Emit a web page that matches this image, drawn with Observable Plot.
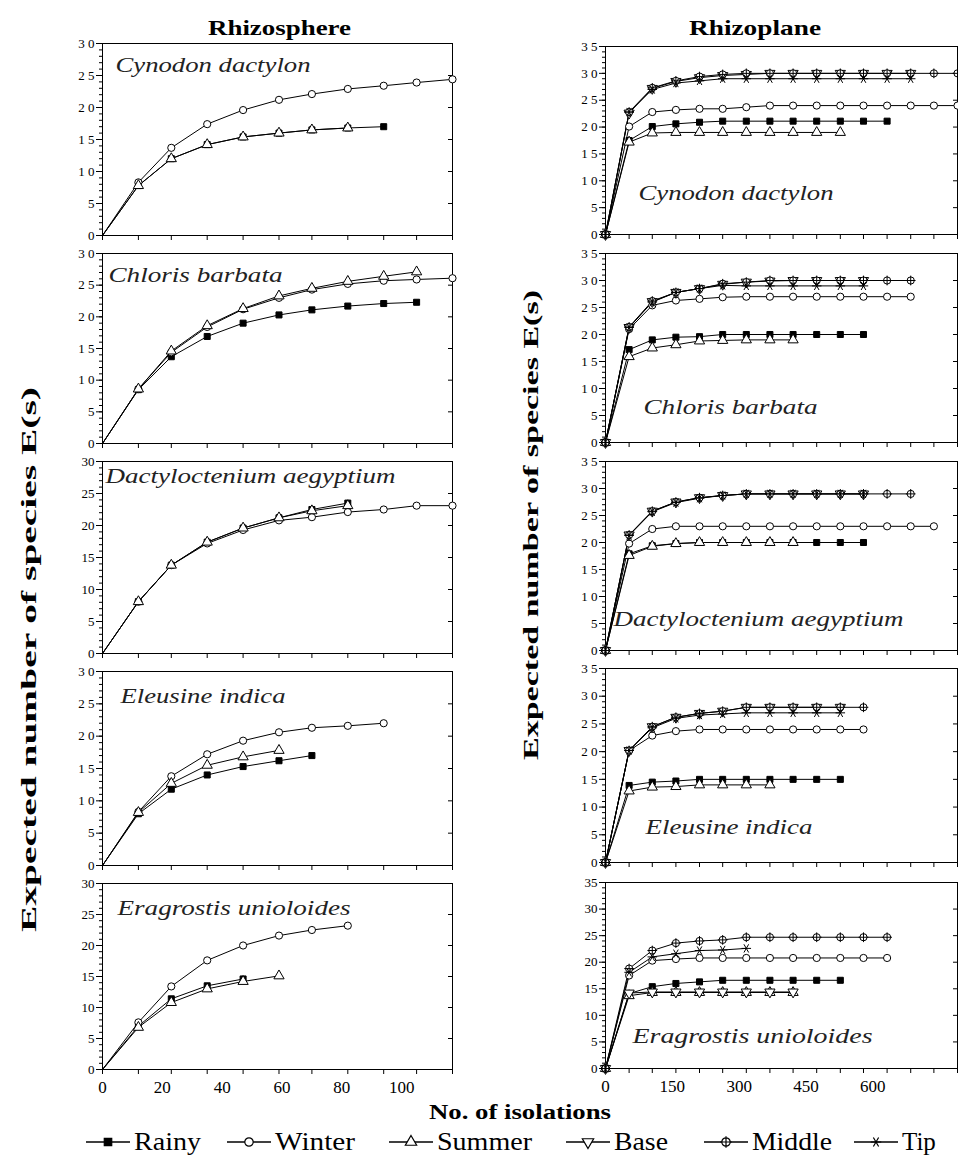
<!DOCTYPE html>
<html><head><meta charset="utf-8">
<script src="https://cdn.jsdelivr.net/npm/d3@7"></script>
<script src="https://cdn.jsdelivr.net/npm/@observablehq/plot@0.6"></script>
<style>
body{margin:0;background:#fff;}
#fig{position:relative;width:958px;height:1164px;overflow:hidden;background:#fff;font-family:"Liberation Serif",serif;}
#fig svg.panel{position:absolute;overflow:visible;}
#overlay{position:absolute;left:0;top:0;}
</style></head><body><div id="fig"></div>
<script>
// ---------------- DATA ----------------
const seasons = ["Rainy", "Winter", "Summer", "Base", "Middle", "Tip"];
const species = ["Cynodon dactylon", "Chloris barbata", "Dactyloctenium aegyptium", "Eleusine indica", "Eragrostis unioloides"];
const columnTitles = ["Rhizosphere", "Rhizoplane"];
const yTitle = "Expected number of species E(s)";
const xTitle = "No. of isolations";

// sample sizes (no. of isolations) at which E(s) was computed
const sphereN = [0, 12, 23, 35, 47, 59, 70, 82, 94, 105, 117];
const planeN = [0, 53, 105, 158, 211, 263, 316, 369, 421, 474, 527, 579, 632, 685, 737, 790];
const sphereXLabels = [0, 20, 40, 60, 80, 100];
const planeXLabels = [0, 150, 300, 450, 600];
const sphereYTicks = [0, 5, 10, 15, 20, 25, 30];
const planeYTicks = [0, 5, 10, 15, 20, 25, 30, 35];

// Rhizosphere
const cynodonSphereRainy  = [0, 7.8, 12.0, 14.2, 15.4, 16.0, 16.5, 16.8, 17.0];
const cynodonSphereWinter = [0, 8.3, 13.7, 17.4, 19.6, 21.2, 22.1, 22.9, 23.4, 23.9, 24.4];
const cynodonSphereSummer = [0, 7.8, 12.0, 14.2, 15.4, 16.0, 16.5, 16.8];

const chlorisSphereRainy  = [0, 8.5, 13.7, 16.9, 19.0, 20.3, 21.1, 21.7, 22.1, 22.3];
const chlorisSphereWinter = [0, 8.6, 14.4, 18.4, 21.2, 23.0, 24.3, 25.2, 25.7, 25.9, 26.1];
const chlorisSphereSummer = [0, 8.6, 14.6, 18.6, 21.3, 23.3, 24.5, 25.6, 26.4, 27.1];

const dactyloSphereRainy  = [0, 8.1, 13.8, 17.4, 19.6, 21.2, 22.5, 23.5];
const dactyloSphereWinter = [0, 8.1, 13.8, 17.2, 19.3, 20.8, 21.3, 22.1, 22.5, 23.1, 23.1];
const dactyloSphereSummer = [0, 8.1, 13.8, 17.4, 19.6, 21.2, 22.3, 23.1];

const eleusineSphereRainy  = [0, 8.0, 11.8, 14.0, 15.3, 16.2, 17.0];
const eleusineSphereWinter = [0, 8.3, 13.8, 17.2, 19.3, 20.6, 21.3, 21.6, 22.0];
const eleusineSphereSummer = [0, 8.2, 12.7, 15.5, 16.8, 17.8];

const eragrostisSphereRainy  = [0, 7.0, 11.4, 13.5, 14.6];
const eragrostisSphereWinter = [0, 7.6, 13.4, 17.6, 20.0, 21.6, 22.5, 23.2];
const eragrostisSphereSummer = [0, 6.8, 10.8, 13.0, 14.2, 15.1];

// Rhizoplane
const cynodonPlaneRainy  = [0, 17.5, 20.1, 20.6, 20.9, 21.1, 21.1, 21.1, 21.1, 21.1, 21.1, 21.1, 21.1];
const cynodonPlaneWinter = [0, 20.1, 22.8, 23.2, 23.4, 23.4, 23.7, 24.0, 24.0, 24.0, 24.0, 24.0, 24.0, 24.0, 24.0, 24.0];
const cynodonPlaneSummer = [0, 17.2, 18.9, 19.0, 19.0, 19.0, 19.0, 19.0, 19.0, 19.0, 19.0];
const cynodonPlaneBase   = [0, 22.6, 27.2, 28.5, 29.2, 29.6, 29.8, 30, 30, 30, 30, 30, 30, 30];
const cynodonPlaneMiddle = [0, 22.8, 27.3, 28.6, 29.4, 29.8, 30, 30, 30, 30, 30, 30, 30, 30, 30, 30];
const cynodonPlaneTip    = [0, 22.8, 27.0, 28.2, 28.6, 29, 29, 29, 29, 29, 29, 29, 29, 29];

const chlorisPlaneRainy  = [0, 17.2, 19.0, 19.5, 19.6, 20, 20, 20, 20, 20, 20, 20];
const chlorisPlaneWinter = [0, 21.0, 25.4, 26.3, 26.6, 26.9, 27, 27, 27, 27, 27, 27, 27, 27];
const chlorisPlaneSummer = [0, 15.9, 17.5, 18.1, 18.8, 18.9, 19, 19, 19];
const chlorisPlaneBase   = [0, 21.3, 26.1, 27.8, 28.5, 29.3, 29.7, 29.9, 30, 30, 30, 30];
const chlorisPlaneMiddle = [0, 21.4, 26.2, 27.8, 28.5, 29.4, 29.7, 30, 30, 30, 30, 30, 30, 30];
const chlorisPlaneTip    = [0, 21.3, 26.0, 27.8, 28.5, 29.1, 29, 29, 29, 29, 29, 29];

const dactyloPlaneRainy  = [0, 17.9, 19.4, 19.8, 20, 20, 20, 20, 20, 20, 20, 20];
const dactyloPlaneWinter = [0, 19.8, 22.5, 23, 23, 23, 23, 23, 23, 23, 23, 23, 23, 23, 23];
const dactyloPlaneSummer = [0, 17.6, 19.3, 19.8, 20, 20, 20, 20, 20];
const dactyloPlaneBase   = [0, 21.4, 25.8, 27.5, 28.3, 28.7, 29, 29, 29, 29, 29, 29];
const dactyloPlaneMiddle = [0, 21.4, 25.8, 27.5, 28.3, 28.7, 29, 29, 29, 29, 29, 29, 29, 29];
const dactyloPlaneTip    = [0, 21.3, 25.7, 27.4, 28.2, 28.7, 29, 29, 29, 29, 29, 29];

const eleusinePlaneRainy  = [0, 13.9, 14.5, 14.7, 15, 15, 15, 15, 15, 15, 15];
const eleusinePlaneWinter = [0, 20.2, 22.9, 23.7, 24, 24, 24, 24, 24, 24, 24, 24];
const eleusinePlaneSummer = [0, 12.9, 13.6, 13.7, 14, 14, 14, 14];
const eleusinePlaneBase   = [0, 20.2, 24.5, 26.2, 26.9, 27.3, 28, 28, 28, 28, 28];
const eleusinePlaneMiddle = [0, 20.2, 24.5, 26.2, 26.9, 27.3, 28, 28, 28, 28, 28, 28];
const eleusinePlaneTip    = [0, 20.2, 24.3, 26.0, 26.6, 26.8, 27, 27, 27, 27, 27];

const eragrostisPlaneRainy  = [0, 14.1, 15.4, 16.0, 16.3, 16.6, 16.6, 16.6, 16.6, 16.6, 16.6];
const eragrostisPlaneWinter = [0, 17.5, 20.3, 20.6, 20.8, 20.8, 20.8, 20.8, 20.8, 20.8, 20.8, 20.8, 20.8];
const eragrostisPlaneSummer = [0, 13.7, 14.3, 14.3, 14.3, 14.3, 14.3, 14.3, 14.3];
const eragrostisPlaneBase   = [0, 14.2, 14.4, 14.4, 14.4, 14.4, 14.4, 14.4, 14.4];
const eragrostisPlaneMiddle = [0, 18.8, 22.2, 23.6, 24.0, 24.2, 24.7, 24.7, 24.7, 24.7, 24.7, 24.7, 24.7];
const eragrostisPlaneTip    = [0, 18.1, 21.0, 21.6, 22.2, 22.3, 22.6];

// ---------------- BUILD ----------------
const sphereSeries = [
  {Rainy: cynodonSphereRainy, Winter: cynodonSphereWinter, Summer: cynodonSphereSummer},
  {Rainy: chlorisSphereRainy, Winter: chlorisSphereWinter, Summer: chlorisSphereSummer},
  {Rainy: dactyloSphereRainy, Winter: dactyloSphereWinter, Summer: dactyloSphereSummer},
  {Rainy: eleusineSphereRainy, Winter: eleusineSphereWinter, Summer: eleusineSphereSummer},
  {Rainy: eragrostisSphereRainy, Winter: eragrostisSphereWinter, Summer: eragrostisSphereSummer}
];
const planeSeries = [
  {Rainy: cynodonPlaneRainy, Winter: cynodonPlaneWinter, Summer: cynodonPlaneSummer, Base: cynodonPlaneBase, Middle: cynodonPlaneMiddle, Tip: cynodonPlaneTip},
  {Rainy: chlorisPlaneRainy, Winter: chlorisPlaneWinter, Summer: chlorisPlaneSummer, Base: chlorisPlaneBase, Middle: chlorisPlaneMiddle, Tip: chlorisPlaneTip},
  {Rainy: dactyloPlaneRainy, Winter: dactyloPlaneWinter, Summer: dactyloPlaneSummer, Base: dactyloPlaneBase, Middle: dactyloPlaneMiddle, Tip: dactyloPlaneTip},
  {Rainy: eleusinePlaneRainy, Winter: eleusinePlaneWinter, Summer: eleusinePlaneSummer, Base: eleusinePlaneBase, Middle: eleusinePlaneMiddle, Tip: eleusinePlaneTip},
  {Rainy: eragrostisPlaneRainy, Winter: eragrostisPlaneWinter, Summer: eragrostisPlaneSummer, Base: eragrostisPlaneBase, Middle: eragrostisPlaneMiddle, Tip: eragrostisPlaneTip}
];

// custom marker shapes
const sqrt3 = Math.sqrt(3);
const triangleDown = {draw(ctx, size) {
  const y = -Math.sqrt(size / (sqrt3 * 3));
  ctx.moveTo(0, -y * 2); ctx.lineTo(-sqrt3 * y, y); ctx.lineTo(sqrt3 * y, y); ctx.closePath();
}};
const circlePlus = {draw(ctx, size) {
  const r = Math.sqrt(size / Math.PI), a = r * 1.35;
  ctx.moveTo(r, 0); ctx.arc(0, 0, r, 0, 2 * Math.PI); ctx.closePath();
  ctx.moveTo(-a, 0); ctx.lineTo(a, 0); ctx.moveTo(0, -a); ctx.lineTo(0, a);
}};
const asterisk = {draw(ctx, size) {
  const r = Math.sqrt(size / Math.PI) * 1.25, c = r * 0.5, s = r * 0.866;
  ctx.moveTo(-r, 0); ctx.lineTo(r, 0);
  ctx.moveTo(-c, -s); ctx.lineTo(c, s);
  ctx.moveTo(c, -s); ctx.lineTo(-c, s);
}};
const markerOf = {
  Rainy: {symbol: "square", fill: "black", r: 3.4},
  Winter: {symbol: "circle", fill: "white", r: 3.6},
  Summer: {symbol: "triangle", fill: "white", r: 3.8},
  Base: {symbol: triangleDown, fill: "white", r: 3.8},
  Middle: {symbol: circlePlus, fill: "white", r: 3.6},
  Tip: {symbol: asterisk, fill: "none", r: 3.8}
};

const fig = document.getElementById("fig");
const spaced = d => String(d).split("").join(" ");
const FONT = "'Liberation Serif', serif";

const layout = {
  sphere: {left: 0, mL: 102, width: 458, mR: 6, tops: [43, 253, 461, 671, 883], bottoms: [235, 443, 653, 865, 1069],
           spacedLabels: [true, true, false, true, false],
           label: [[13, 21, 195], [6, 21, 174], [3, 14, 290], [18, 24, 165], [15, 24, 233]]},
  plane: {left: 500, mL: 105, width: 458, mR: 1, tops: [46, 253, 461, 668, 882], bottoms: [234, 442, 650, 862, 1068],
          spacedLabels: [true, true, true, true, false],
          label: [[33, 146, 195], [38, 153, 174], [8, 157, 290], [40, 158, 167], [27, 153, 240]]}
};

function drawPanel(kind, i) {
  const L = layout[kind];
  const isSphere = kind === "sphere";
  const xs = isSphere ? sphereN : planeN;
  const yTicks = isSphere ? sphereYTicks : planeYTicks;
  const ymax = yTicks[yTicks.length - 1];
  const series = (isSphere ? sphereSeries : planeSeries)[i];
  const last = i === 4;
  const mT = 8, mB = last ? 32 : 9;
  const frameH = L.bottoms[i] - L.tops[i];
  const frameW = L.width - L.mL - L.mR;
  const data = seasons.flatMap(s => (series[s] || []).map((v, k) => ({season: s, n: xs[k], e: v})));
  const minor = d3.range(0, ymax + 1, 1);
  const fmt = L.spacedLabels[i] ? spaced : (d => String(d));
  const [ldx, ldy, lw] = L.label[i];

  const marks = [
    Plot.frame({stroke: "black", strokeWidth: 1}),
    Plot.axisY(minor, {tickSize: 3, tickFormat: () => "", label: null}),
    Plot.axisY(yTicks, {tickSize: 6, tickPadding: 2, tickFormat: fmt, fontSize: 13, fontFamily: FONT, label: null}),
    Plot.tickY(yTicks, {y: d => d, insetLeft: frameW - 4, stroke: "black"}),
    Plot.axisX(xs, {tickSize: 5, tickFormat: () => "", label: null}),
    Plot.line(data, {x: "n", y: "e", z: "season", stroke: "black", strokeWidth: 1})
  ];
  for (const s of seasons) {
    const m = markerOf[s];
    const pts = data.filter(d => d.season === s && (!isSphere || d.n > 0));
    if (!pts.length) continue;
    marks.push(Plot.dot(pts, {x: "n", y: "e", symbol: m.symbol, r: m.r, fill: m.fill, stroke: "black", strokeWidth: 1}));
  }
  marks.push(Plot.text([species[i]], {frameAnchor: "top-left", dx: ldx, dy: ldy, textAnchor: "start", lineAnchor: "middle",
    fontStyle: "italic", fontSize: 22, fontFamily: FONT, fill: "#222"}));
  if (last) {
    marks.push(Plot.axisX(isSphere ? sphereXLabels : planeXLabels, {tickSize: 0, tickPadding: 11, fontSize: 17, fontFamily: FONT, label: null}));
  }

  const svg = Plot.plot({
    width: L.width,
    height: mT + frameH + mB,
    marginLeft: L.mL, marginRight: L.mR, marginTop: mT, marginBottom: mB,
    x: {domain: [0, xs[xs.length - 1]], label: null},
    y: {domain: [0, ymax], label: null},
    style: {fontFamily: FONT, fontSize: "13px", background: "transparent", color: "black", overflow: "visible"},
    marks
  });
  svg.classList.add("panel");
  svg.style.left = L.left + "px";
  svg.style.top = (L.tops[i] - mT) + "px";
  fig.appendChild(svg);
  d3.select(svg).selectAll('g[aria-label="text"] text')
    .attr("textLength", lw).attr("lengthAdjust", "spacingAndGlyphs");
}

for (let i = 0; i < 5; i++) { drawPanel("sphere", i); drawPanel("plane", i); }

// ---------------- TITLES & LEGEND ----------------
const ov = d3.select(fig).append("svg").attr("id", "overlay").attr("width", 958).attr("height", 1164)
  .attr("font-family", FONT);
ov.append("text").text(columnTitles[0]).attr("x", 208).attr("y", 35).attr("font-weight", "bold").attr("font-size", 21)
  .attr("textLength", 143).attr("lengthAdjust", "spacingAndGlyphs");
ov.append("text").text(columnTitles[1]).attr("x", 689).attr("y", 35).attr("font-weight", "bold").attr("font-size", 21)
  .attr("textLength", 132).attr("lengthAdjust", "spacingAndGlyphs");
ov.append("text").text(yTitle).attr("transform", "translate(36,932) rotate(-90)").attr("font-weight", "bold").attr("font-size", 22)
  .attr("textLength", 545).attr("lengthAdjust", "spacingAndGlyphs");
ov.append("text").text(yTitle).attr("transform", "translate(538,760) rotate(-90)").attr("font-weight", "bold").attr("font-size", 22)
  .attr("textLength", 470).attr("lengthAdjust", "spacingAndGlyphs");
ov.append("text").text(xTitle).attr("x", 429).attr("y", 1119).attr("font-weight", "bold").attr("font-size", 22)
  .attr("textLength", 182).attr("lengthAdjust", "spacingAndGlyphs");

const legendX = [86, 227, 389, 566, 704, 854];
const legendTextW = [67, 80, 95, 54, 80, null];
const ly = 1142;
seasons.forEach((s, k) => {
  const g = ov.append("g").attr("transform", `translate(${legendX[k]},${ly})`);
  g.append("line").attr("x1", 0).attr("x2", 44).attr("y1", 0).attr("y2", 0).attr("stroke", "black").attr("stroke-width", 1.3);
  const m = markerOf[s];
  const symType = m.symbol === "square" ? d3.symbolSquare : m.symbol === "circle" ? d3.symbolCircle :
                  m.symbol === "triangle" ? d3.symbolTriangle : m.symbol;
  g.append("path").attr("transform", "translate(22,0)").attr("d", d3.symbol(symType, Math.PI * 4.2 * 4.2)())
    .attr("fill", m.fill).attr("stroke", "black").attr("stroke-width", 1.2);
  const t = g.append("text").text(s).attr("x", 48).attr("y", 8).attr("font-size", 25);
  if (legendTextW[k]) t.attr("textLength", legendTextW[k]).attr("lengthAdjust", "spacingAndGlyphs");
});
</script></body></html>
